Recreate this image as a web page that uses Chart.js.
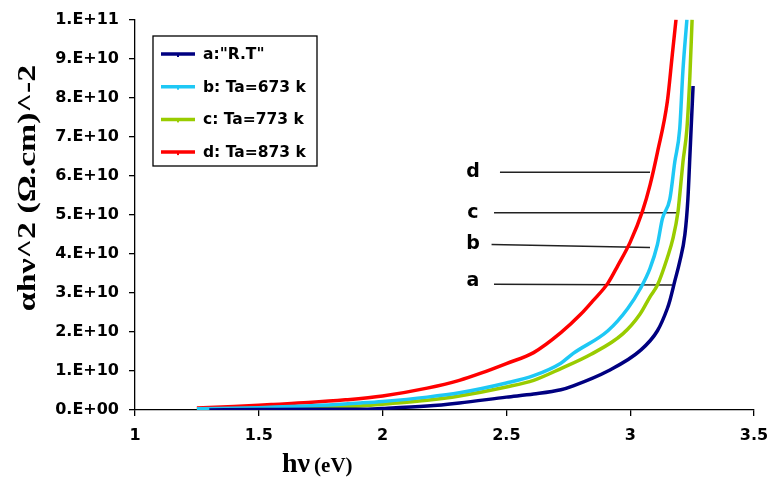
<!DOCTYPE html>
<html>
<head>
<meta charset="utf-8">
<script src="https://cdn.jsdelivr.net/npm/chart.js@4.4.1/dist/chart.umd.min.js"></script>
<style>
  html, body { margin: 0; padding: 0; background: #fff; }
  #wrap { width: 767px; height: 477px; }
</style>
</head>
<body>
<div id="wrap"><canvas id="chart" width="767" height="477"></canvas></div>
<script>
// values in units of 1e10 (Ω.cm)^-2, x in eV
const xTicks = [1, 1.5, 2, 2.5, 3, 3.5];
const yTicks = [0, 1, 2, 3, 4, 5, 6, 7, 8, 9, 10];

const seriesNames = ['a:"R.T"', 'b: Ta=673 k', 'c: Ta=773 k', 'd: Ta=873 k'];
const seriesColors = ['#000080', '#1ec8f5', '#99cc00', '#ff0000'];

const xA = [1.3, 1.5, 1.75, 1.91, 2.0, 2.18, 2.31, 2.5, 2.61, 2.72, 2.77, 2.91, 3.04, 3.11, 3.15, 3.16, 3.18, 3.2, 3.221, 3.233, 3.241, 3.246, 3.254];
const yA = [0.0, 0.01, 0.02, 0.02, 0.04, 0.1, 0.18, 0.33, 0.41, 0.52, 0.62, 1.0, 1.52, 2.03, 2.6, 2.8, 3.3, 3.8, 4.5, 5.4, 6.5, 7.2, 8.3];

const xB = [1.25, 1.5, 1.75, 1.91, 2.0, 2.18, 2.31, 2.5, 2.61, 2.72, 2.77, 2.91, 2.99, 3.04, 3.08, 3.11, 3.13, 3.16, 3.18, 3.2, 3.213, 3.229];
const yB = [0.03, 0.06, 0.12, 0.18, 0.22, 0.33, 0.44, 0.69, 0.88, 1.2, 1.45, 2.03, 2.6, 3.1, 3.63, 4.24, 4.9, 5.4, 6.35, 7.2, 8.7, 10];

const xC = [1.25, 1.5, 1.75, 1.91, 2.0, 2.18, 2.31, 2.5, 2.61, 2.72, 2.84, 2.97, 3.04, 3.08, 3.11, 3.15, 3.173, 3.193, 3.2, 3.213, 3.229, 3.241, 3.25];
const yC = [0.02, 0.04, 0.08, 0.1, 0.15, 0.25, 0.36, 0.59, 0.76, 1.06, 1.42, 1.95, 2.46, 2.9, 3.2, 3.9, 4.4, 5.08, 5.5, 6.35, 7.2, 8.55, 10];

const xD = [1.25, 1.4, 1.55, 1.7, 1.85, 2.0, 2.18, 2.31, 2.4, 2.5, 2.61, 2.72, 2.8, 2.85, 2.91, 2.95, 3.0, 3.05, 3.08, 3.11, 3.15, 3.17, 3.185];
const yD = [0.05, 0.09, 0.14, 0.19, 0.26, 0.36, 0.56, 0.76, 0.95, 1.19, 1.47, 1.98, 2.45, 2.8, 3.25, 3.7, 4.3, 5.1, 5.76, 6.6, 7.9, 9.1, 10];

// pointer lines next to the curve letters
const markLetters = ['d', 'c', 'b', 'a'];
const markX0 = [2.474, 2.45, 2.44, 2.45];
const markX1 = [3.08, 3.193, 3.08, 3.17];
const markY0 = [6.09, 5.05, 4.24, 3.22];
const markY1 = [6.09, 5.05, 4.16, 3.2];
const letterX = [2.365, 2.365, 2.365, 2.365];
const letterY = [6.1, 5.05, 4.25, 3.3];

const toPts = (xs, ys) => xs.map((x, i) => ({ x: x, y: ys[i] }));
const curves = [toPts(xA, yA), toPts(xB, yB), toPts(xC, yC), toPts(xD, yD)];

const datasets = curves.map((pts, i) => ({
    label: seriesNames[i],
    data: pts,
    borderColor: seriesColors[i],
    borderWidth: 3.5,
    pointRadius: 0,
    cubicInterpolationMode: 'monotone',
    fill: false
}));

markLetters.forEach((l, i) => {
    datasets.push({
        label: 'mark ' + l,
        data: [{ x: markX0[i], y: markY0[i] }, { x: markX1[i], y: markY1[i] }],
        borderColor: '#222',
        borderWidth: 1.5,
        pointRadius: 0,
        fill: false
    });
});

const decorPlugin = {
    id: 'decor',
    afterDraw(chart) {
        const ctx = chart.ctx;
        const xs = chart.scales.x, ys = chart.scales.y;
        ctx.save();

        // curve letters
        ctx.fillStyle = '#000';
        ctx.font = 'bold 19px "DejaVu Sans"';
        ctx.textAlign = 'center';
        ctx.textBaseline = 'middle';
        markLetters.forEach((l, i) => {
            ctx.fillText(l, xs.getPixelForValue(letterX[i]), ys.getPixelForValue(letterY[i]));
        });

        // legend box
        const lx = 153, ly = 36, lw = 164, lh = 130;
        ctx.fillStyle = '#fff';
        ctx.fillRect(lx, ly, lw, lh);
        ctx.strokeStyle = '#000';
        ctx.lineWidth = 1.3;
        ctx.strokeRect(lx, ly, lw, lh);
        ctx.font = 'bold 15.5px "DejaVu Sans"';
        ctx.textAlign = 'left';
        seriesNames.forEach((name, i) => {
            const y = 54 + i * 32.7;
            ctx.strokeStyle = seriesColors[i];
            ctx.lineWidth = 3.5;
            ctx.beginPath();
            ctx.moveTo(161, y);
            ctx.lineTo(195, y);
            ctx.stroke();
            ctx.fillStyle = seriesColors[i];
            ctx.fillRect(177, y - 1, 2, 4);
            ctx.fillStyle = '#000';
            ctx.fillText(name, 203, y + 1);
        });

        // x title
        ctx.textBaseline = 'alphabetic';
        ctx.font = 'bold 28px "Liberation Serif"';
        ctx.fillText('hν', 282, 472);
        const w = ctx.measureText('hν').width;
        ctx.font = 'bold 21px "Liberation Serif"';
        ctx.fillText('(eV)', 282 + w + 4, 472);

        // y title
        ctx.translate(29, 188);
        ctx.rotate(-Math.PI / 2);
        ctx.scale(1.35, 1);
        ctx.textAlign = 'center';
        ctx.textBaseline = 'middle';
        ctx.font = 'bold 25px "Liberation Serif"';
        ctx.fillText('αhν^2 (Ω.cm)^-2', 0, 0);
        ctx.restore();
    }
};

new Chart(document.getElementById('chart'), {
    type: 'line',
    data: { datasets: datasets },
    options: {
        responsive: false,
        animation: false,
        layout: { padding: { top: 17, right: 0, left: 0, bottom: 0 } },
        plugins: {
            legend: { display: false },
            tooltip: { enabled: false }
        },
        scales: {
            x: {
                type: 'linear',
                min: xTicks[0],
                max: xTicks[xTicks.length - 1],
                afterBuildTicks: s => { s.ticks = xTicks.map(v => ({ value: v })); },
                afterFit: s => { s.height = 67; s.paddingRight = 13; },
                grid: { drawOnChartArea: false, drawTicks: true, tickLength: 6, color: '#000', lineWidth: 1.3 },
                border: { display: true, color: '#000', width: 1.3 },
                ticks: {
                    color: '#000',
                    padding: 10,
                    maxRotation: 0,
                    font: { family: 'DejaVu Sans', size: 16, weight: 'bold' },
                    callback: v => String(v)
                }
            },
            y: {
                type: 'linear',
                min: yTicks[0],
                max: yTicks[yTicks.length - 1],
                afterBuildTicks: s => { s.ticks = yTicks.map(v => ({ value: v })); },
                afterFit: s => { s.width = 135; },
                grid: { drawOnChartArea: false, drawTicks: true, tickLength: 6, color: '#000', lineWidth: 1.3 },
                border: { display: true, color: '#000', width: 1.3 },
                ticks: {
                    color: '#000',
                    padding: 10,
                    font: { family: 'DejaVu Sans', size: 16, weight: 'bold' },
                    callback: v => v === 0 ? '0.E+00' : (v === 10 ? '1.E+11' : v + '.E+10')
                }
            }
        }
    },
    plugins: [decorPlugin]
});
</script>
</body>
</html>
